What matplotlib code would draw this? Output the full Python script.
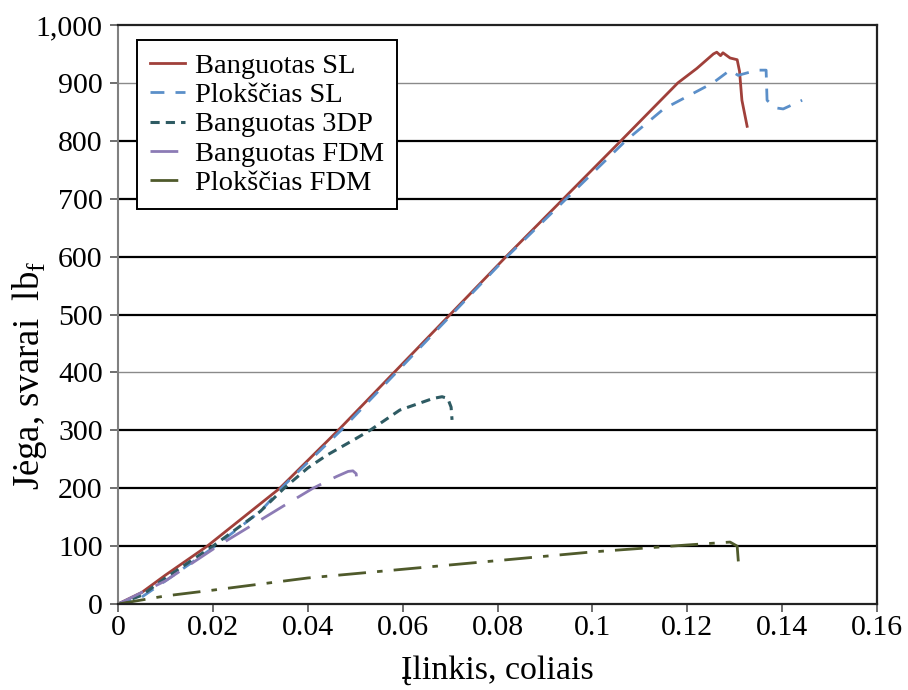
import matplotlib
matplotlib.use("Agg")
import matplotlib.pyplot as plt

plt.rcParams['font.family'] = ['Liberation Serif', 'DejaVu Serif']
plt.rcParams['mathtext.fontset'] = 'custom'
plt.rcParams['mathtext.rm'] = 'Liberation Serif'

# curves (deflection in, force lbf)
bsl_x = [0, 0.005, 0.01, 0.0188, 0.0341, 0.0464, 0.0818, 0.106, 0.118, 0.122, 0.1255, 0.1262, 0.127, 0.1275, 0.129, 0.1305, 0.131, 0.1315, 0.1326]
bsl_y = [0, 20, 50, 100, 200, 300, 600, 800, 900, 925, 950, 953, 947, 952, 943, 940, 920, 870, 825]

psl_x = [0, 0.005, 0.01, 0.0205, 0.03, 0.035, 0.047, 0.082, 0.107, 0.115, 0.1254, 0.129, 0.1307, 0.1347, 0.1366, 0.1368, 0.1385, 0.1402, 0.1442]
psl_y = [0, 12, 40, 100, 160, 205, 300, 600, 800, 855, 900, 922, 913, 922, 922, 870, 857, 855, 870]

b3dp_x = [0, 0.005, 0.01, 0.02, 0.03, 0.035, 0.04, 0.044, 0.05, 0.0531, 0.0594, 0.0664, 0.0683, 0.0695, 0.0702, 0.0704]
b3dp_y = [0, 15, 45, 100, 160, 200, 235, 257, 285, 300, 335, 355, 358, 355, 340, 318]

bfdm_x = [0, 0.01, 0.021, 0.03, 0.035, 0.0411, 0.046, 0.0485, 0.0495, 0.0502, 0.0504]
bfdm_y = [0, 40, 100, 145, 170, 200, 220, 229, 230, 225, 202]

pfdm_x = [0, 0.01, 0.02, 0.04, 0.06, 0.08, 0.1, 0.12, 0.129, 0.1305, 0.1309]
pfdm_y = [0, 14, 24, 45, 60, 75, 90, 102, 107, 100, 57]

x_ticks = [0, 0.02, 0.04, 0.06, 0.08, 0.1, 0.12, 0.14, 0.16]
x_labels = ['0', '0.02', '0.04', '0.06', '0.08', '0.1', '0.12', '0.14', '0.16']
y_ticks = [0, 100, 200, 300, 400, 500, 600, 700, 800, 900, 1000]
y_labels = ['0', '100', '200', '300', '400', '500', '600', '700', '800', '900', '1,000']

fig = plt.figure(figsize=(9.08, 6.9), dpi=100)
ax = fig.add_axes([0.130, 0.1246, 0.836, 0.8392])

# horizontal grid, two of the lines are lighter in the source
for v in y_ticks[1:-1]:
    if v in (400, 900):
        ax.axhline(v, color='#8a8a8a', lw=1.0, zorder=0)
    else:
        ax.axhline(v, color='black', lw=1.6, zorder=0)

ax.plot(bsl_x, bsl_y, color='#a0403a', lw=2.0, label='Banguotas SL')
ax.plot(psl_x, psl_y, color='#5b8fc9', lw=2.0, dashes=(5, 4), label='Plokščias SL')
ax.plot(b3dp_x, b3dp_y, color='#2e5b63', lw=2.2, dashes=(3, 2), label='Banguotas 3DP')
ax.plot(bfdm_x, bfdm_y, color='#8c7bb5', lw=2.0, dashes=(10, 5), label='Banguotas FDM')
ax.plot(pfdm_x, pfdm_y, color='#4f5a2b', lw=2.0, dashes=(10, 4, 2, 4), label='Plokščias FDM')

ax.set_xlim(0, 0.16)
ax.set_ylim(0, 1000)
ax.set_xticks(x_ticks)
ax.set_xticklabels(x_labels)
ax.set_yticks(y_ticks)
ax.set_yticklabels(y_labels)
ax.tick_params(labelsize=21.5, direction='out', length=6, width=1.2, color='#555555')
ax.tick_params(axis='y', pad=5)
ax.tick_params(axis='x', pad=2)

ax.spines['left'].set_color('#808080')
ax.spines['left'].set_linewidth(1.5)
for s in ('top', 'right', 'bottom'):
    ax.spines[s].set_color('#222222')
    ax.spines[s].set_linewidth(1.6)

ax.set_xlabel('Įlinkis, coliais', fontsize=24.5, labelpad=10)
ax.set_ylabel('Jėga, svarai  lb$_\\mathrm{f}$', fontsize=26.5, va='center', ha='center')
ax.yaxis.set_label_coords(-0.117, 0.395)

leg = ax.legend(loc='upper left', bbox_to_anchor=(0.025, 0.974), borderaxespad=0,
                fontsize=20.5, handlelength=1.25, handletextpad=0.35, labelspacing=0.12,
                fancybox=False, framealpha=1, edgecolor='black', borderpad=0.45)
leg.get_frame().set_linewidth(1.4)

fig.savefig('out.png', dpi=100)
